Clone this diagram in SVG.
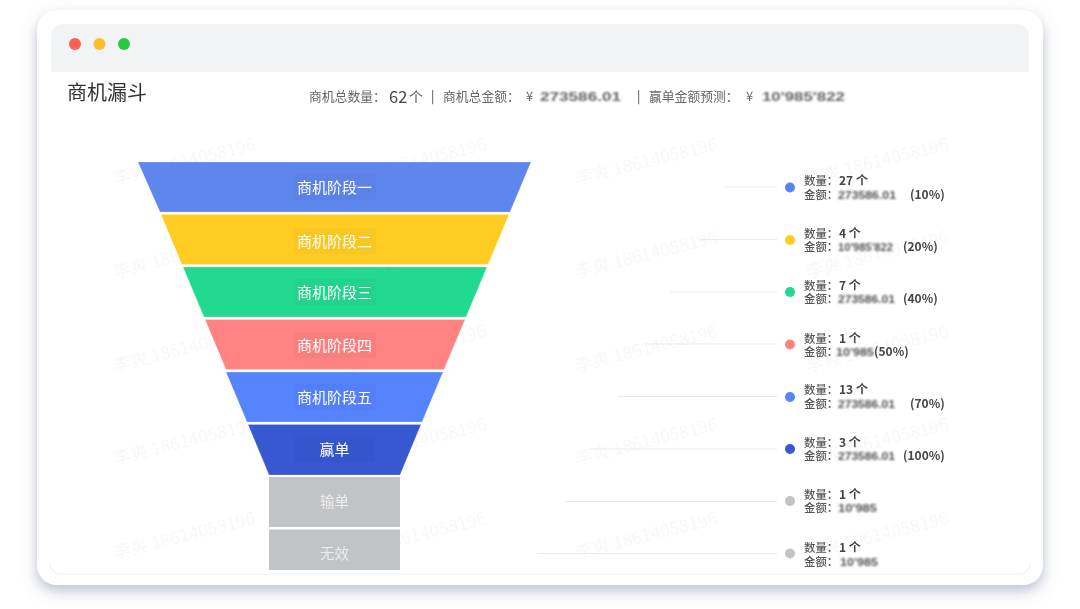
<svg xmlns="http://www.w3.org/2000/svg" width="1080" height="609" viewBox="0 0 1080 609">
<style>
text{font-family:"Noto Sans CJK SC","Noto Sans",sans-serif}
.wm{font-size:17.500px;fill:#000;fill-opacity:.032}
.lab{font-size:15px;fill:#fff;text-anchor:middle;dominant-baseline:central}
.labg{font-size:14.500px;fill:#ececec;text-anchor:middle;dominant-baseline:central}
.hd{font-size:12.800px;fill:#666}
.num{font-size:16.500px;fill:#444}
.lg{font-size:11.400px;fill:#555;font-weight:500}
.lgv{font-size:12px;fill:#444;font-weight:700}
.bl{font-family:"Liberation Sans",sans-serif;font-weight:700}
.lb{fill:#000;fill-opacity:.025}
.conn{stroke:#ebebec;stroke-width:1;fill:none}
.seg{stroke:#fff;stroke-opacity:.35;stroke-width:.6}
</style>
<defs>
<filter id="shadow" x="-5%" y="-5%" width="110%" height="112%"><feDropShadow dx="0" dy="6" stdDeviation="7" flood-color="#aab0c4" flood-opacity=".8"/></filter>
<filter id="blur" filterUnits="userSpaceOnUse" x="0" y="0" width="1080" height="609"><feGaussianBlur stdDeviation="1"/></filter>
<filter id="soft" filterUnits="userSpaceOnUse" x="0" y="0" width="1080" height="609"><feGaussianBlur stdDeviation=".4"/></filter>
<clipPath id="body"><rect x="51" y="72" width="978" height="500"/></clipPath>
</defs>
<rect width="1080" height="609" fill="#fff"/>
<g filter="url(#soft)">
<g id="window">
<rect x="37" y="10" width="1006" height="575" rx="20" fill="#fff" filter="url(#shadow)"/>
<path d="M51 72V36a12 12 0 0 1 12-12H1017a12 12 0 0 1 12 12V72Z" fill="#f2f3f5"/>
<path d="M50 564a10 10 0 0 0 10 10H1020a10 10 0 0 0 10-10" fill="none" stroke="#eeeff1"/>
<circle cx="75" cy="44" r="6" fill="#ff5f57"/><circle cx="99.500" cy="44" r="6" fill="#ffbd2e"/><circle cx="124" cy="44" r="6" fill="#28c93f"/>
</g>
<g id="watermarks" clip-path="url(#body)">
<g class="wm">
<text transform="translate(115 185) rotate(-14)">李爽 18614058196</text><text transform="translate(346 185) rotate(-14)">李爽 18614058196</text><text transform="translate(577 185) rotate(-14)">李爽 18614058196</text><text transform="translate(808 185) rotate(-14)">李爽 18614058196</text>
<text transform="translate(115 278) rotate(-14)">李爽 18614058196</text><text transform="translate(346 278) rotate(-14)">李爽 18614058196</text><text transform="translate(577 278) rotate(-14)">李爽 18614058196</text><text transform="translate(808 278) rotate(-14)">李爽 18614058196</text>
<text transform="translate(115 372) rotate(-14)">李爽 18614058196</text><text transform="translate(346 372) rotate(-14)">李爽 18614058196</text><text transform="translate(577 372) rotate(-14)">李爽 18614058196</text><text transform="translate(808 372) rotate(-14)">李爽 18614058196</text>
<text transform="translate(115 465) rotate(-14)">李爽 18614058196</text><text transform="translate(346 465) rotate(-14)">李爽 18614058196</text><text transform="translate(577 465) rotate(-14)">李爽 18614058196</text><text transform="translate(808 465) rotate(-14)">李爽 18614058196</text>
<text transform="translate(115 559) rotate(-14)">李爽 18614058196</text><text transform="translate(346 559) rotate(-14)">李爽 18614058196</text><text transform="translate(577 559) rotate(-14)">李爽 18614058196</text><text transform="translate(808 559) rotate(-14)">李爽 18614058196</text>
</g>
</g>
<g id="header">
<text x="67" y="100" font-size="20" fill="#333">商机漏斗</text>
<text class="hd" x="309" y="101">商机总数量：</text>
<text class="num" x="389" y="102.500">62</text><text x="409" y="102" style="font-size:14px;fill:#555">个</text>
<text class="hd" x="431" y="101" style="fill:#444">|</text>
<text class="hd" x="443" y="101">商机总金额：</text>
<text class="hd" x="526" y="101">¥</text>
<text class="hd bl" filter="url(#blur)" x="540" y="101" textLength="81" lengthAdjust="spacingAndGlyphs">273586.01</text>
<text class="hd" x="637" y="101" style="fill:#444">|</text>
<text class="hd" x="649" y="101">赢单金额预测：</text>
<text class="hd" x="746" y="101">¥</text>
<text class="hd bl" filter="url(#blur)" x="762" y="101" textLength="83" lengthAdjust="spacingAndGlyphs">10'985'822</text>
</g>
<g id="connectors">
<path class="conn" d="M724 187H777M700 239.500H777M670 292H777M645 344H777M618 396.500H777M590 449H777M565 501.500H777M537 553.500H777"/>
</g>
<g id="stage1"><polygon class="seg" points="138,162 531,162 510,212 160,212" fill="#5e86ec"/><rect class="lb" x="294" y="174" width="82" height="26"/><text class="lab" x="334.500" y="186.500">商机阶段一</text></g>
<g id="stage2"><polygon class="seg" points="161,214.500 509,214.500 488,264.500 182,264.500" fill="#ffcc22"/><rect class="lb" x="294" y="228" width="82" height="26"/><text class="lab" x="334.500" y="240">商机阶段二</text></g>
<g id="stage3"><polygon class="seg" points="183,267 487,267 466,317 204,317" fill="#24da8f"/><rect class="lb" x="294" y="279" width="82" height="26"/><text class="lab" x="334.500" y="291">商机阶段三</text></g>
<g id="stage4"><polygon class="seg" points="205,319.500 465,319.500 444,369.500 226,369.500" fill="#ff8383"/><rect class="lb" x="294" y="332" width="82" height="26"/><text class="lab" x="334.500" y="344.500">商机阶段四</text></g>
<g id="stage5"><polygon class="seg" points="226,372 443,372 422,422 247,422" fill="#5684ff"/><rect class="lb" x="294" y="384" width="82" height="26"/><text class="lab" x="334.500" y="396">商机阶段五</text></g>
<g id="won"><polygon class="seg" points="248,424.500 421,424.500 400,475 269,475" fill="#3858d2"/><rect class="lb" x="294" y="436" width="81" height="26"/><text class="lab" x="334.500" y="448">赢单</text></g>
<g id="lost"><rect x="269" y="477" width="131" height="50" fill="#c2c3c5"/><text class="labg" x="334.500" y="500">输单</text></g>
<g id="invalid"><rect x="269" y="529.500" width="131" height="40.500" fill="#c2c3c5"/><text class="labg" x="334.500" y="552">无效</text></g>
<g id="legend1"><circle cx="790" cy="187.500" r="5" fill="#5684ff"/><text class="lg" x="804" y="185">数量：</text><text class="lgv" x="839" y="185">27 个</text><text class="lg" x="804" y="198.500">金额：</text><text class="lg bl" filter="url(#blur)" x="838" y="198.500" textLength="58" lengthAdjust="spacingAndGlyphs">273586.01</text><text class="lgv" x="910" y="198.500">(10%)</text></g>
<g id="legend2"><circle cx="790" cy="240" r="5" fill="#ffcc22"/><text class="lg" x="804" y="237.500">数量：</text><text class="lgv" x="839" y="237.500">4 个</text><text class="lg" x="804" y="251">金额：</text><text class="lg bl" filter="url(#blur)" x="838" y="251" textLength="55" lengthAdjust="spacingAndGlyphs">10'985'822</text><text class="lgv" x="903" y="251">(20%)</text></g>
<g id="legend3"><circle cx="790" cy="292" r="5" fill="#24da8f"/><text class="lg" x="804" y="290">数量：</text><text class="lgv" x="839" y="290">7 个</text><text class="lg" x="804" y="303">金额：</text><text class="lg bl" filter="url(#blur)" x="838" y="303" textLength="57" lengthAdjust="spacingAndGlyphs">273586.01</text><text class="lgv" x="903" y="303">(40%)</text></g>
<g id="legend4"><circle cx="790" cy="344.500" r="5" fill="#ff8383"/><text class="lg" x="804" y="342.500">数量：</text><text class="lgv" x="839" y="342.500">1 个</text><text class="lg" x="804" y="356">金额：</text><text class="lg bl" filter="url(#blur)" x="836" y="356" textLength="38" lengthAdjust="spacingAndGlyphs">10'985</text><text class="lgv" x="874" y="356">(50%)</text></g>
<g id="legend5"><circle cx="790" cy="397" r="5" fill="#5684ff"/><text class="lg" x="804" y="394">数量：</text><text class="lgv" x="839" y="394">13 个</text><text class="lg" x="804" y="407.500">金额：</text><text class="lg bl" filter="url(#blur)" x="838" y="407.500" textLength="57" lengthAdjust="spacingAndGlyphs">273586.01</text><text class="lgv" x="910" y="407.500">(70%)</text></g>
<g id="legend6"><circle cx="790" cy="449" r="5" fill="#3858d2"/><text class="lg" x="804" y="447">数量：</text><text class="lgv" x="839" y="447">3 个</text><text class="lg" x="804" y="460">金额：</text><text class="lg bl" filter="url(#blur)" x="838" y="460" textLength="57" lengthAdjust="spacingAndGlyphs">273586.01</text><text class="lgv" x="903" y="460">(100%)</text></g>
<g id="legend7"><circle cx="790" cy="501" r="5" fill="#c2c3c5"/><text class="lg" x="804" y="499">数量：</text><text class="lgv" x="839" y="499">1 个</text><text class="lg" x="804" y="512">金额：</text><text class="lg bl" filter="url(#blur)" x="838" y="512" textLength="39" lengthAdjust="spacingAndGlyphs">10'985</text></g>
<g id="legend8"><circle cx="790" cy="553.500" r="5" fill="#c2c3c5"/><text class="lg" x="804" y="552">数量：</text><text class="lgv" x="839" y="552">1 个</text><text class="lg" x="804" y="566">金额：</text><text class="lg bl" filter="url(#blur)" x="840" y="566" textLength="38" lengthAdjust="spacingAndGlyphs">10'985</text></g>
</g>
</svg>
